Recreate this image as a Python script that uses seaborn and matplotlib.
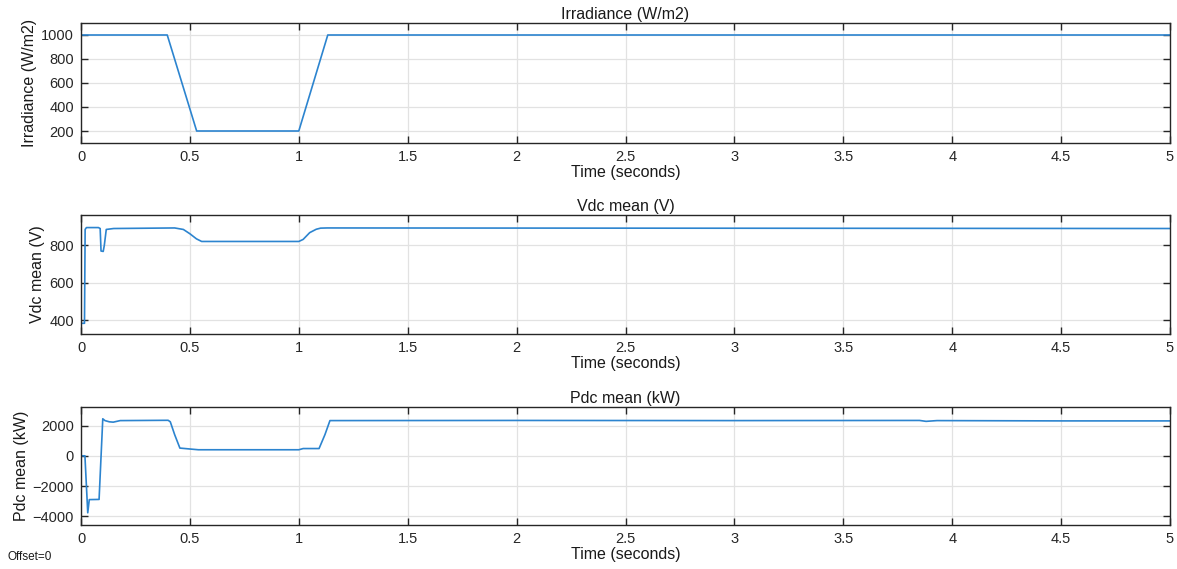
import matplotlib
matplotlib.use("Agg")
import matplotlib.pyplot as plt
import seaborn as sns
import pandas as pd
from matplotlib.ticker import MultipleLocator, FuncFormatter

# ---- data ----
irr_t = [0.0, 0.396, 0.531, 1.0, 1.133, 5.0]
irr_v = [1000, 1000, 200, 200, 1000, 1000]

vdc_t = [0.0, 0.016, 0.019, 0.025, 0.08, 0.088, 0.092, 0.102, 0.107, 0.116, 0.15, 0.43,
         0.47, 0.5, 0.53, 0.554, 1.0, 1.02, 1.05, 1.08, 1.1, 1.13, 5.0]
vdc_v = [385, 385, 885, 895, 895, 890, 770, 768, 800, 885, 890, 893,
         885, 862, 835, 821, 821, 832, 868, 886, 892, 893, 890]

pdc_t = [0.0, 0.018, 0.031, 0.038, 0.083, 0.1, 0.11, 0.13, 0.148, 0.18, 0.4, 0.41,
         0.43, 0.454, 0.5, 0.539, 1.0, 1.02, 1.093, 1.12, 1.143, 2.0, 3.0, 3.85,
         3.88, 3.93, 4.5, 5.0]
pdc_v = [0, 0, -3773, -2900, -2887, 2450, 2330, 2250, 2227, 2330, 2350, 2250,
         1400, 511, 450, 400, 400, 480, 480, 1400, 2330, 2340, 2330, 2340,
         2280, 2330, 2310, 2310]

titles = ["Irradiance (W/m2)", "Vdc mean (V)", "Pdc mean (kW)"]
ylabels = ["Irradiance (W/m2)", "Vdc mean (V)", "Pdc mean (kW)"]
ylims = [(100, 1100), (328, 962), (-4580, 3230)]
yticks = [[200, 400, 600, 800, 1000], [400, 600, 800], [-4000, -2000, 0, 2000]]
xlabel = "Time (seconds)"

sns.set_theme(style="whitegrid")
plt.rcParams["font.family"] = ["Liberation Sans", "DejaVu Sans"]

fig = plt.figure(figsize=(11.77, 5.69), dpi=100)
L, R = 81 / 1177, 1170 / 1177
boxes = [(23, 143), (215, 334), (407, 525)]
series = [(irr_t, irr_v), (vdc_t, vdc_v), (pdc_t, pdc_v)]
blue = "#2C84CF"

def fmt(x, pos):
    return f"{x:g}"

for i, ((top, bot), (t, v)) in enumerate(zip(boxes, series)):
    ax = fig.add_axes([L, 1 - bot / 569, R - L, (bot - top) / 569])
    df = pd.DataFrame({"t": t, "v": v})
    sns.lineplot(data=df, x="t", y="v", ax=ax, color=blue, linewidth=1.2,
                 estimator=None, sort=False)
    ax.set_xlim(0, 5)
    ax.set_ylim(*ylims[i])
    ax.set_yticks(yticks[i])
    ax.xaxis.set_major_locator(MultipleLocator(0.5))
    ax.xaxis.set_major_formatter(FuncFormatter(fmt))
    ax.set_facecolor("white")
    ax.grid(True, color="#e2e2e2", linewidth=0.9)
    for s in ax.spines.values():
        s.set_visible(True)
        s.set_color("#262626")
        s.set_linewidth(1.0)
    ax.tick_params(axis="both", which="both", direction="in", length=5, width=1.0,
                   colors="#262626", labelsize=10.5, top=True, right=True,
                   bottom=True, left=True, pad=5)
    ax.set_title(titles[i], fontsize=11.5, color="#1a1a1a", pad=3)
    ax.set_xlabel(xlabel, fontsize=11.5, color="#1a1a1a", labelpad=1)
    ax.set_ylabel(ylabels[i], fontsize=11.5, color="#1a1a1a", labelpad=3)

fig.text(8 / 1177, 1 - 557 / 569, "Offset=0", fontsize=8.5, color="#1a1a1a", va="center")
fig.savefig("out.png", dpi=100)
